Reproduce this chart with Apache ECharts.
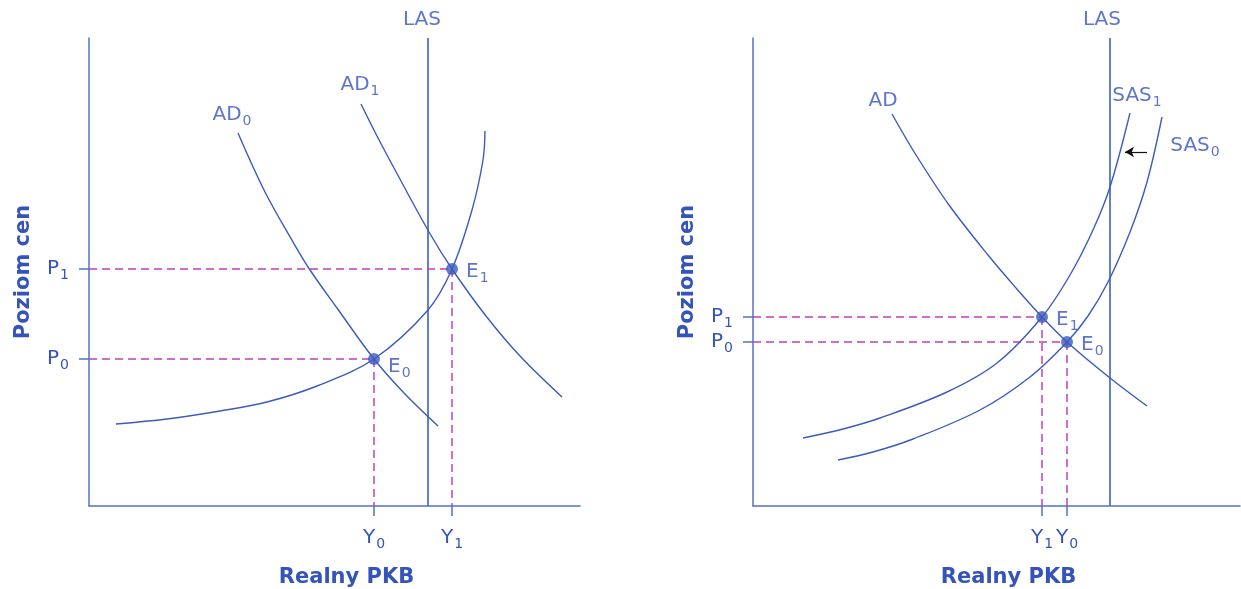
<!DOCTYPE html>
<html><head><meta charset="utf-8">
<script src="https://cdn.jsdelivr.net/npm/echarts@6/dist/echarts.min.js"></script>
<style>html,body{margin:0;padding:0;background:#fff}#c{width:1241px;height:589px}</style>
</head><body><div id="c"></div>
<script>
// Left panel
const L_AD0 = [[149,373],[176,314],[204,264],[221,236],[248,198],[285,147],[315,113],[349,80]];
const L_AD1 = [[272,402],[288,370],[305,338],[340,274],[363,237],[397,190],[431,150],[473,109]];
const L_SAS = [[27,82],[78,87],[131,95],[178,104],[228,120],[285,147],[339,196],[363,237],[383,296],[394,346],[396,375]];
const L_LAS = 339;
const L_E = [[285,147,'0'],[363,237,'1']];          // E0, E1
const L_YTICKS = [[147,'0'],[237,'1']];             // P0, P1
const L_XTICKS = [[285,'0'],[363,'1']];             // Y0, Y1
const L_LABELS = [['AD','0',143,391],['AD','1',271,421],['LAS','',333,486]];
// Right panel
const R_AD   = [[139,392],[163,351],[196,301],[235,251],[263,218],[289,189],[314,164],[357,128],[394,100]];
const R_SAS1 = [[50,68],[90,77],[127,88],[194,114],[244,143],[289,189],[317,231],[340,276],[357,319],[377,393]];
const R_SAS0 = [[85,46],[120,54],[160,67],[227,96],[277,129],[314,164],[335,190],[355,224],[377,274],[394,324],[409,389]];
const R_LAS = 357;
const R_E = [[289,189,'1'],[314,164,'0']];          // E1, E0
const R_YTICKS = [[164,'0'],[189,'1']];             // P0, P1
const R_XTICKS = [[289,'1'],[314,'0']];             // Y1, Y0
const R_LABELS = [['AD','',130,405],['SAS','1',384,410],['SAS','0',442,360],['LAS','',349,486]];
const R_ARROW = [[394,354],[372,354]];

// ---------- STYLE ----------
const BLUE = '#3b5bbd', TXT = '#3554bb', AXC = '#5272c6', MAG = '#c040b8';
const FONT = 'DejaVu Sans';
const rich = {
  m: {fontSize: 20, color: TXT, fontFamily: FONT},
  s: {fontSize: 14, color: TXT, fontFamily: FONT, padding: [13, 0, 0, 1]}
};
const sub = (m, s) => s === '' ? '{m|' + m + '}' : '{m|' + m + '}{s|' + s + '}';

function axes(gi, xmax, xt, yt, xName, yName) {
  const xl = {}; xt.forEach(t => xl[t[0]] = t[1]);
  const yl = {}; yt.forEach(t => yl[t[0]] = t[1]);
  return {
    x: {
      gridIndex: gi, type: 'value', min: 0, max: xmax,
      axisLine: {show: true, lineStyle: {color: AXC, width: 1.5}},
      axisTick: {show: true, customValues: xt.map(t => t[0]), length: 10, lineStyle: {color: AXC, width: 1.5}},
      axisLabel: {show: true, customValues: xt.map(t => t[0]), margin: 18, formatter: v => sub('Y', xl[v]), rich: rich},
      splitLine: {show: false},
      name: xName, nameLocation: 'middle', nameGap: 61,
      nameTextStyle: {fontSize: 21, fontWeight: 'bold', color: TXT, fontFamily: FONT, padding: [0, 0, 0, 24]}
    },
    y: {
      gridIndex: gi, type: 'value', min: 0, max: 468,
      axisLine: {show: true, lineStyle: {color: AXC, width: 1.5}},
      axisTick: {show: true, customValues: yt.map(t => t[0]), length: 10, lineStyle: {color: AXC, width: 1.5}},
      axisLabel: {show: true, customValues: yt.map(t => t[0]), margin: 20, formatter: v => sub('P', yl[v]), rich: rich},
      splitLine: {show: false},
      name: yName, nameLocation: 'middle', nameGap: 55, nameRotate: 90,
      nameTextStyle: {fontSize: 21, fontWeight: 'bold', color: TXT, fontFamily: FONT}
    }
  };
}

function curve(gi, data) {
  return {type: 'line', xAxisIndex: gi, yAxisIndex: gi, data: data, smooth: 0.35,
    showSymbol: false, symbol: 'none', lineStyle: {color: BLUE, width: 1.4}, silent: true, z: 3};
}
function straight(gi, data, color, width, type) {
  return {type: 'line', xAxisIndex: gi, yAxisIndex: gi, data: data, showSymbol: false, symbol: 'none',
    lineStyle: {color: color, width: width, type: type}, silent: true, z: 2};
}
function dashes(gi, E) {
  const out = [];
  E.forEach(e => {
    out.push(straight(gi, [[0, e[1]], [e[0], e[1]]], MAG, 1.5, [8, 5]));
    out.push(straight(gi, [[e[0], e[1]], [e[0], 0]], MAG, 1.5, [8, 5]));
  });
  return out;
}
function points(gi, E, offs) {
  return {type: 'scatter', xAxisIndex: gi, yAxisIndex: gi, symbolSize: 12, itemStyle: {color: BLUE}, z: 5, clip: false,
    data: E.map((e, i) => ({value: [e[0], e[1]], label: {show: true, position: 'right', distance: 8, offset: offs[i],
      formatter: sub('E', e[2]), rich: rich}}))};
}
function labels(gi, L) {
  return {type: 'scatter', xAxisIndex: gi, yAxisIndex: gi, symbolSize: 0, clip: false, silent: true,
    data: L.map(l => ({value: [l[2], l[3]], label: {show: true, position: 'inside', formatter: sub(l[0], l[1]), rich: rich}}))};
}

const a0 = axes(0, 491, L_XTICKS, L_YTICKS, 'Realny PKB', 'Poziom cen');
const a1 = axes(1, 487, R_XTICKS, R_YTICKS, 'Realny PKB', 'Poziom cen');

const series = [
  curve(0, L_AD0), curve(0, L_AD1), curve(0, L_SAS),
  straight(0, [[L_LAS, 0], [L_LAS, 468]], AXC, 1.8, 'solid'),
  ...dashes(0, L_E),
  points(0, L_E, [[0, 8], [0, 3]]),
  labels(0, L_LABELS),
  curve(1, R_AD), curve(1, R_SAS1), curve(1, R_SAS0),
  straight(1, [[R_LAS, 0], [R_LAS, 468]], AXC, 1.8, 'solid'),
  ...dashes(1, R_E),
  points(1, R_E, [[0, 3], [0, 3]]),
  labels(1, R_LABELS),
  {type: 'line', xAxisIndex: 1, yAxisIndex: 1, data: [], silent: true,
    markLine: {silent: true, symbol: ['none', 'arrow'], symbolSize: [8, 9], label: {show: false},
      lineStyle: {color: '#111', width: 1.2, type: 'solid'},
      data: [[{coord: R_ARROW[0]}, {coord: R_ARROW[1]}]]}}
];

const chart = echarts.init(document.getElementById('c'), null, {renderer: 'canvas'});
chart.setOption({
  animation: false,
  backgroundColor: '#fff',
  grid: [
    {left: 89, top: 38, width: 491, height: 468, containLabel: false, outerBoundsMode: 'none'},
    {left: 753, top: 38, width: 487, height: 468, containLabel: false, outerBoundsMode: 'none'}
  ],
  xAxis: [a0.x, a1.x],
  yAxis: [a0.y, a1.y],
  series: series
});
</script></body></html>
